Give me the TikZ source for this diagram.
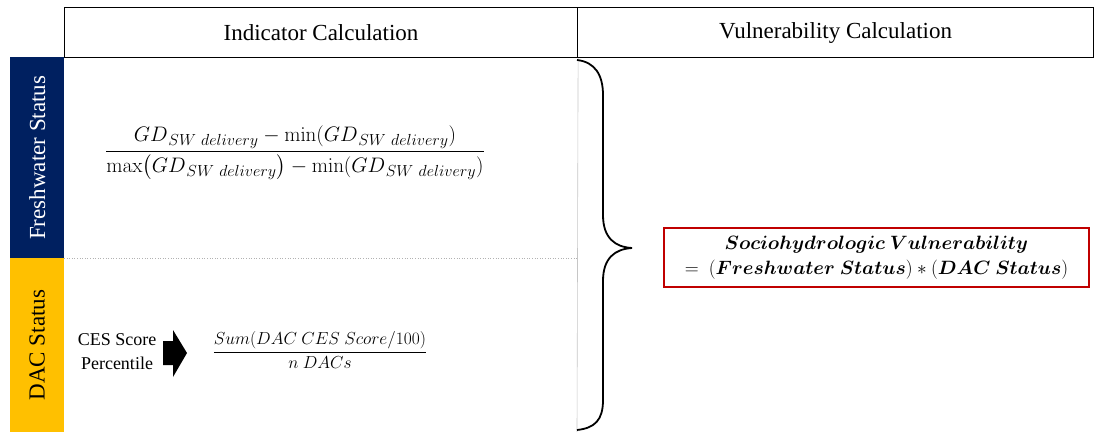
\RequirePackage{fix-cm}
\documentclass[tikz,border=0pt]{standalone}
\usepackage{amsmath,bm}
\usepackage[no-math]{fontspec}
\setmainfont{Liberation Serif}
\usetikzlibrary{calc}
\DeclareMathSizes{21}{21}{16}{12}
\definecolor{navy}{HTML}{002060}
\definecolor{gold}{HTML}{FFC000}
\definecolor{boxred}{HTML}{C00000}
\newcommand{\gdsw}{GD_{\kern1.2pt SW\ delivery}}
\tikzset{
  header/.style={draw=black, line width=1.1pt, minimum height=50pt, inner sep=0pt, font=\fontsize{23}{27}\selectfont, anchor=north west},
  sidebar/.style={minimum width=54pt, inner sep=0pt, anchor=north west},
  sidetext/.style={rotate=90, font=\fontsize{23}{27}\selectfont},
  mathtext/.style={font=\fontsize{21}{25}\selectfont, inner sep=0pt},
}
\begin{document}
\begin{tikzpicture}[x=1pt,y=-1pt]
\useasboundingbox (0,0) rectangle (1094,432);
% headers
\node[header, minimum width=513pt] (ind) at (64,7) {Indicator Calculation};
\node[header, minimum width=516pt] (vul) at (577,7) {Vulnerability Calculation};
% side bars
\node[sidebar, fill=navy, minimum height=201pt] (fw) at (10,57) {};
\node[sidebar, fill=gold, minimum height=174pt] (dac) at (10,258) {};
\node[sidetext, text=white] (fwt) at (fw.center) {Freshwater Status};
\node[sidetext, text=black] (dact) at (dac.center) {DAC Status};
% grid lines
\draw[gray!45, line width=0.6pt] (ind.south east) -- (577,432);
\draw[gray!60, dotted, line width=0.6pt] (64,258) -- (577,258);
% freshwater formula
\node[mathtext] (ffrac) at (295,153) {$\dfrac{\gdsw-\min(\gdsw)}{\max\bigl(\gdsw\bigr)-\min(\gdsw)}$};
% DAC
\node[font=\fontsize{18}{24}\selectfont, align=center, inner sep=0pt] (ces) at (117,352) {CES Score\\Percentile};
\coordinate (arr) at (163,353);
\fill[black] (163,341) -- (173,341) -- (173,330) -- (187,353) -- (173,377) -- (173,365) -- (163,365) -- cycle;
\node[font=\fontsize{17.4}{21}\selectfont, inner sep=0pt] (dfrac) at (320,350) {$\dfrac{Sum(DAC\ CES\ Score/100)}{n\ DACs}$};
% brace
\coordinate (btop) at (577,60);
\coordinate (bbot) at (577,430);
\coordinate (btip) at (632,248);
\draw[line width=1.8pt] (btop) .. controls (595,62) and (603,75) .. (603,95) -- (603,215) .. controls (603,238) and (615,247) .. (btip)
  .. controls (615,249) and (603,258) .. (603,281) -- (603,400) .. controls (603,420) and (595,428) .. (bbot);
% result
\node[draw=boxred, line width=1.8pt, minimum width=425pt, minimum height=59pt, align=center, inner sep=0pt, font=\fontsize{19.3}{25}\selectfont] (res) at (876.5,257.5)
  {{\boldmath$Sociohydrologic\ Vulnerability$}\\$=\ (\bm{Freshwater\ Status}) * (\bm{DAC\ Status})$};
\end{tikzpicture}
\end{document}
